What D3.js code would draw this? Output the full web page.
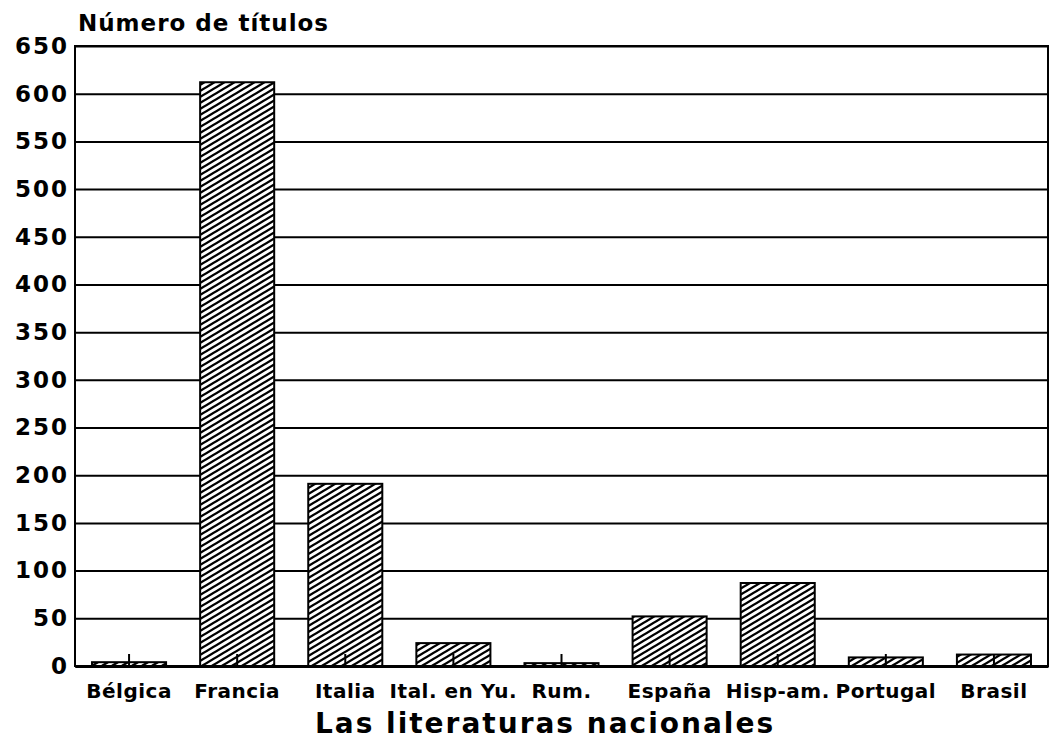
<!DOCTYPE html>
<html lang="es">
<head>
    <meta charset="UTF-8">
    <title>Las literaturas nacionales</title>
</head>
<script src="https://cdn.jsdelivr.net/npm/d3@7"></script>
<body>
    <div id="chart-space"></div>
</body>

<script>
    // values
    var categories = ["Bélgica", "Francia", "Italia", "Ital. en Yu.", "Rum.", "España", "Hisp-am.", "Portugal", "Brasil"];
    var titulos = [4, 612, 191, 24, 3, 52, 87, 9, 12];
    var yTicks = [0, 50, 100, 150, 200, 250, 300, 350, 400, 450, 500, 550, 600, 650];

    var width = 1052;
    var height = 747;
    var margin = {top: 46, right: 4, bottom: 81, left: 75};
    var chartWidth = width - margin.left - margin.right;
    var chartHeight = height - margin.top - margin.bottom;

    var data = categories.map(function(c, i){ return {name: c, value: titulos[i]}; });

    var svg = d3.select("#chart-space")
                .append("svg")
                .attr("width", width)
                .attr("height", height)
                .style("font-family", "'DejaVu Sans', sans-serif")
                .style("font-weight", "bold");

    // diagonal hatching, lines rising to the right
    var pattern = svg.append("defs").append("pattern")
                .attr("id", "hatch")
                .attr("patternUnits", "userSpaceOnUse")
                .attr("width", 10)
                .attr("height", 6);
    pattern.append("rect").attr("width", 10).attr("height", 6).attr("fill", "white");
    pattern.append("path")
            .attr("d", "M0,6L10,0M-5,3L5,-3M5,9L15,3")
            .attr("stroke", "black")
            .attr("stroke-width", 2.3);

    var g = svg.append("g")
                .attr("transform", "translate(" + margin.left + "," + margin.top + ")");

    var xScale = d3.scaleBand()
                    .domain(categories)
                    .range([0, chartWidth])
                    .paddingInner(0.315)
                    .paddingOuter(0.1575);

    var yScale = d3.scaleLinear()
                    .domain([0, 650])
                    .range([chartHeight, 0]);

    // y axis with gridlines
    var yAxis = g.append("g")
                .call(d3.axisLeft(yScale)
                        .tickValues(yTicks)
                        .tickSize(-chartWidth)
                        .tickPadding(6));
    yAxis.select(".domain").remove();
    yAxis.selectAll(".tick line").attr("stroke", "black").attr("stroke-width", 2);
    yAxis.selectAll(".tick text")
            .attr("font-size", 23)
            .attr("letter-spacing", 2)
            .attr("fill", "black")
            .attr("font-family", "'DejaVu Sans', sans-serif")
            .attr("font-weight", "bold")
            .attr("x", -6);

    // bars
    g.selectAll(".bar")
        .data(data)
        .join("rect")
        .attr("class", "bar")
        .attr("x", function(d){ return xScale(d.name); })
        .attr("y", function(d){ return yScale(d.value); })
        .attr("width", xScale.bandwidth())
        .attr("height", function(d){ return chartHeight - yScale(d.value); })
        .attr("fill", "url(#hatch)")
        .attr("stroke", "black")
        .attr("stroke-width", 2);

    // frame
    g.append("rect")
        .attr("width", chartWidth)
        .attr("height", chartHeight)
        .attr("fill", "none")
        .attr("stroke", "black")
        .attr("stroke-width", 2);

    // x axis, ticks pointing inward
    var xAxis = g.append("g")
                .attr("transform", "translate(0," + chartHeight + ")")
                .call(d3.axisBottom(xScale).tickSizeInner(-12).tickSizeOuter(0).tickPadding(18));
    xAxis.select(".domain").attr("stroke", "black").attr("stroke-width", 3);
    xAxis.selectAll(".tick line").attr("stroke", "black").attr("stroke-width", 2);
    xAxis.selectAll(".tick text")
            .attr("font-size", 20)
            .attr("letter-spacing", 0.5)
            .attr("fill", "black")
            .attr("font-family", "'DejaVu Sans', sans-serif")
            .attr("font-weight", "bold");

    // titles
    svg.append("text")
        .attr("x", 78)
        .attr("y", 31)
        .attr("font-size", 23)
        .attr("letter-spacing", 1)
        .text("Número de títulos");

    svg.append("text")
        .attr("x", 545)
        .attr("y", 733)
        .attr("text-anchor", "middle")
        .attr("font-size", 28)
        .attr("letter-spacing", 2)
        .text("Las literaturas nacionales");
</script>

<style>
    body { margin: 0; background: white; }
</style>
</html>
